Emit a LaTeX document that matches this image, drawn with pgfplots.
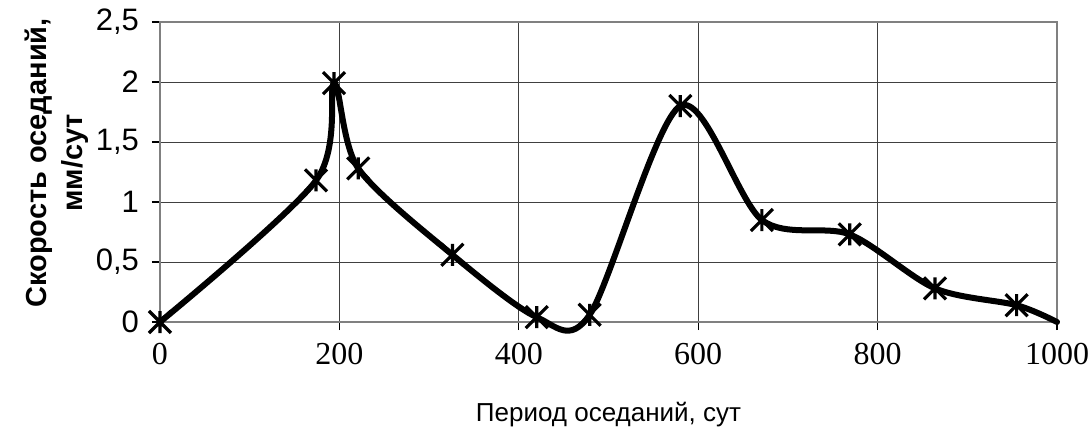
\documentclass[border=0pt]{standalone}
\usepackage{fontspec}
\setmainfont{Liberation Sans}
\newfontfamily\serifnum{Liberation Serif}
\usepackage{pgfplots}
\usepackage{pgfplotstable}
\pgfplotsset{compat=1.18}
\newcommand\yt[1]{\fontsize{15.5}{17}\selectfont #1}
\newcommand\xt[1]{\fontsize{16}{18}\selectfont\serifnum #1}
\pgfdeclareplotmark{xstar}{%
  \pgfpathmoveto{\pgfqpoint{0pt}{\pgfplotmarksize}}%
  \pgfpathlineto{\pgfqpoint{0pt}{-\pgfplotmarksize}}%
  \pgfpathmoveto{\pgfqpoint{-\pgfplotmarksize}{\pgfplotmarksize}}%
  \pgfpathlineto{\pgfqpoint{\pgfplotmarksize}{-\pgfplotmarksize}}%
  \pgfpathmoveto{\pgfqpoint{-\pgfplotmarksize}{-\pgfplotmarksize}}%
  \pgfpathlineto{\pgfqpoint{\pgfplotmarksize}{\pgfplotmarksize}}%
  \pgfusepathqstroke}
\pgfplotstableread{
x y
0 0
174 1.18
194 1.99
221 1.28
326 0.56
420 0.04
479 0.06
580 1.8
671 0.85
769 0.73
864 0.28
955 0.14
1000 0
}\data
\begin{document}
\begin{tikzpicture}
\begin{axis}[
  scale only axis, width=448.5pt, height=150pt,
  xmin=0, xmax=1000, ymin=0, ymax=2.5,
  xtick={0,200,400,600,800,1000}, ytick={0,0.5,1,1.5,2,2.5},
  xticklabels={\xt{0},\xt{200},\xt{400},\xt{600},\xt{800},\xt{1000}},
  yticklabels={\yt{0},{\yt{0,5}},\yt{1},{\yt{1,5}},\yt{2},{\yt{2,5}}},
  grid=major, major grid style={draw=black!75, line width=0.5pt},
  axis line style={draw=gray, line width=1.3pt},
  tick align=outside, tick pos=left, major tick length=4pt,
  tick style={black, line width=0.6pt},
  yticklabel style={xshift=-3pt},
  xticklabel style={yshift=-3pt},
  xlabel={Период оседаний, сут},
  ylabel={Скорость оседаний,\\мм/сут},
  xlabel style={at={(axis description cs:0.5,-0.31)}, anchor=center, font=\fontsize{13}{16}\selectfont},
  ylabel style={at={(axis description cs:-0.1155,0.53)}, anchor=center, align=center, font=\bfseries\fontsize{14.5}{18}\selectfont},
  clip=false,
]
\addplot[black, line width=3pt, smooth, line cap=round] table[x=x,y=y]{\data};
\addplot[only marks, mark=xstar, mark size=5.5pt, mark options={black, line width=1.6pt}, restrict x to domain=0:990] table[x=x,y=y]{\data};
\end{axis}
\pgfresetboundingbox
\path (current axis.south west) ++(-80pt,-58.5pt) rectangle ++(546pt,219.5pt);
\end{tikzpicture}
\end{document}
